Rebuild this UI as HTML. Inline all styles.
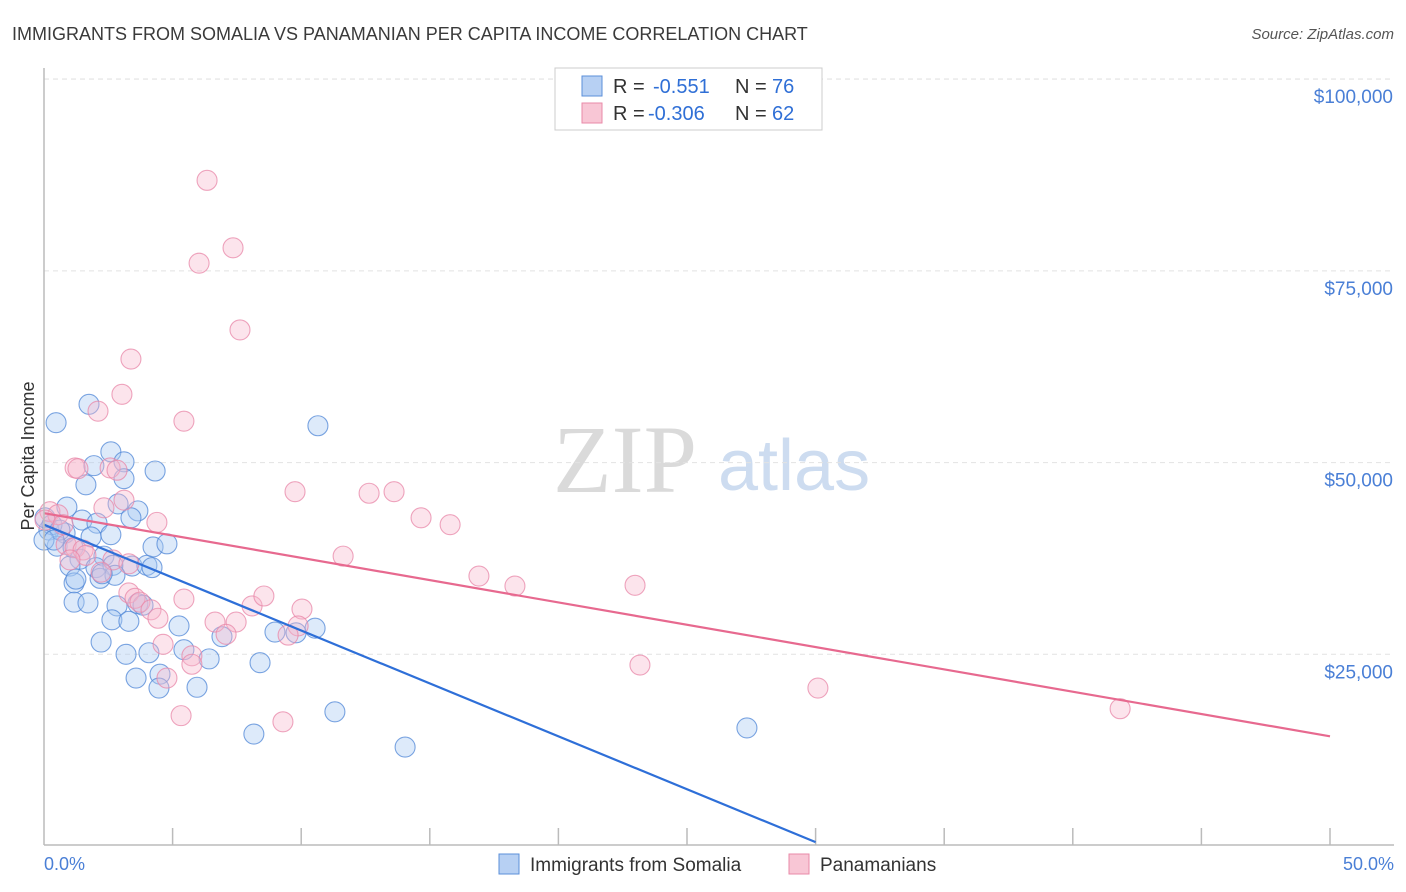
<!DOCTYPE html>
<html><head><meta charset="utf-8"><style>
body{margin:0;background:#fff;font-family:"Liberation Sans",sans-serif;}
#wrap{position:relative;width:1406px;height:892px;overflow:hidden}
</style></head><body><div id="wrap">
<svg id="svg" width="1406" height="892" xmlns="http://www.w3.org/2000/svg">
<text x="12" y="40" font-size="18" fill="#3a3a3a">IMMIGRANTS FROM SOMALIA VS PANAMANIAN PER CAPITA INCOME CORRELATION CHART</text>
<text x="1394" y="39" font-size="15" fill="#555" font-style="italic" text-anchor="end">Source: ZipAtlas.com</text>
<text x="34" y="456" font-size="18" fill="#333" text-anchor="middle" transform="rotate(-90 34 456)">Per Capita Income</text>
<g><text x="553" y="492" font-family="Liberation Serif,serif" font-size="96" fill="#dadada">ZIP</text><text x="718" y="490" font-size="72" fill="#cddcf0">atlas</text></g>
<g id="grid"></g><g id="pts"></g><g id="lines"></g>
<line x1="44" y1="68" x2="44" y2="845" stroke="#bbb" stroke-width="1.5"/>
<line x1="44" y1="845" x2="1394" y2="845" stroke="#bbb" stroke-width="1.5"/>
<text x="44" y="870" font-size="18" fill="#4a7fd6">0.0%</text>
<text x="1394" y="870" font-size="18" fill="#4a7fd6" text-anchor="end">50.0%</text>
<g>
<rect x="555" y="68" width="267" height="62" fill="#fff" stroke="#ccc"/>
<rect x="582" y="76" width="20" height="20" fill="#b7d0f3" stroke="#5b8fd9"/>
<rect x="582" y="103" width="20" height="20" fill="#f8c6d5" stroke="#e98aa8"/>
<text x="613" y="93" font-size="20" fill="#333">R =</text><text x="653" y="93" font-size="20" fill="#2f6fd6">-0.551</text>
<text x="735" y="93" font-size="20" fill="#333">N =</text><text x="772" y="93" font-size="20" fill="#2f6fd6">76</text>
<text x="613" y="120" font-size="20" fill="#333">R =</text><text x="648" y="120" font-size="20" fill="#2f6fd6">-0.306</text>
<text x="735" y="120" font-size="20" fill="#333">N =</text><text x="772" y="120" font-size="20" fill="#2f6fd6">62</text>
</g>
<g>
<rect x="499" y="854" width="20" height="20" fill="#b7d0f3" stroke="#5b8fd9"/>
<text x="530" y="871" font-size="19" fill="#333">Immigrants from Somalia</text>
<rect x="789" y="854" width="20" height="20" fill="#f8c6d5" stroke="#e98aa8"/>
<text x="820" y="871" font-size="19" fill="#333">Panamanians</text>
</g>
</svg></div>
<script>
const yTicks=[25000,50000,75000,100000];
const yTickLabels=["$25,000","$50,000","$75,000","$100,000"];
const xTicks=[5,10,15,20,25,30,35,40,45,50];
const blueX=[0.47,1.75,0.89,1.63,2.6,1.94,3.11,4.32,3.11,2.88,3.65,3.38,1.48,2.06,0.82,0.19,0.51,1.13,1.83,1.4,1.01,2.33,2.02,2.68,3.42,4.0,4.2,4.24,4.78,1.17,1.24,2.18,2.76,2.26,1.17,1.71,2.84,3.65,3.85,2.64,3.3,5.25,6.92,8.98,9.8,10.54,2.22,3.19,4.08,5.44,6.42,8.4,3.58,4.51,4.47,5.95,11.31,8.16,14.04,27.33,10.65,0.04,0.31,0.62,0.0,0.39,2.6];
const blueY=[55.2,57.6,44.2,47.1,51.4,49.6,50.1,48.9,47.9,44.6,43.7,42.8,42.5,42.1,40.8,41.2,39.1,38.9,40.3,37.4,36.5,37.8,36.3,36.6,36.5,36.6,36.3,39.0,39.4,34.3,34.8,34.9,35.3,35.5,31.8,31.7,31.3,31.6,31.4,29.5,29.3,28.7,27.3,27.9,27.8,28.4,26.6,25.0,25.2,25.6,24.4,23.9,21.9,22.4,20.6,20.7,17.5,14.6,12.9,15.4,54.8,42.8,41.9,41.2,39.9,39.9,40.6];
const pinkX=[6.34,7.35,6.03,7.62,3.38,3.03,2.1,5.44,1.21,1.32,2.57,2.84,3.11,2.33,4.39,0.23,0.54,0.04,0.74,0.86,1.21,1.52,2.68,3.3,2.22,9.76,12.64,13.61,14.66,15.79,11.63,16.91,18.31,22.98,3.3,5.44,3.54,3.73,4.16,4.43,8.09,8.55,7.47,6.65,7.08,10.03,9.88,9.49,4.63,5.75,5.75,4.78,5.33,9.29,23.17,30.09,41.84,1.63,1.01];
const pinkY=[86.8,78.0,76.0,67.3,63.5,58.9,56.7,55.4,49.3,49.2,49.3,49.0,45.1,44.1,42.2,43.6,43.2,42.5,41.9,39.3,38.9,38.6,37.3,36.8,35.7,46.2,46.0,46.2,42.8,41.9,37.8,35.2,33.9,34.0,33.0,32.2,32.3,31.8,30.8,29.7,31.3,32.6,29.2,29.2,27.6,30.9,28.7,27.5,26.3,24.8,23.7,21.9,17.0,16.2,23.6,20.6,17.9,37.9,37.3];
const blueTrend=[0,41.9,30,0.5];
const pinkTrend=[0,43.4,50,14.3];
const X=v=>44+v*25.72;
const Y=k=>846-k*1000/130.4;
const NS="http://www.w3.org/2000/svg";
function mk(tag,parent,attrs){const e=document.createElementNS(NS,tag);for(const k in attrs)e.setAttribute(k,attrs[k]);parent.appendChild(e);return e;}
const grid=document.getElementById('grid');
mk('line',grid,{x1:44,y1:79,x2:1394,y2:79,stroke:'#e2e2e2','stroke-dasharray':'5,4'});
yTicks.forEach((t,i)=>{const y=Y(t/1000);
const l=mk('line',grid,{x1:44,y1:y,x2:1394,y2:y,stroke:'#e2e2e2','stroke-dasharray':'5,4'});


const tx=mk('text',grid,{x:1393,y:y+24,'font-size':19,fill:'#4a7fd6','text-anchor':'end'});tx.textContent=yTickLabels[i];

});
xTicks.forEach(t=>{const x=X(t);const l=mk('line',grid,{x1:x,y1:828,x2:x,y2:845,stroke:'#bbb','stroke-width':1.5});

});
const pts=document.getElementById('pts');
blueX.forEach((v,i)=>{const c=mk('circle',pts,{cx:X(v),cy:Y(blueY[i]),r:10,fill:'rgba(170,202,242,0.4)',stroke:'rgba(80,135,215,0.75)','stroke-width':1.1});

});
pinkX.forEach((v,i)=>{const c=mk('circle',pts,{cx:X(v),cy:Y(pinkY[i]),r:10,fill:'rgba(246,185,205,0.38)',stroke:'rgba(232,135,168,0.75)','stroke-width':1.1});

});
const lines=document.getElementById('lines');
const bl=mk('line',lines,{x1:X(blueTrend[0]),y1:Y(blueTrend[1]),x2:X(blueTrend[2]),y2:Y(blueTrend[3]),stroke:'#2e6fd8','stroke-width':2.2});


const pl=mk('line',lines,{x1:X(pinkTrend[0]),y1:Y(pinkTrend[1]),x2:X(pinkTrend[2]),y2:Y(pinkTrend[3]),stroke:'#e7698f','stroke-width':2.2});


</script></body></html>
